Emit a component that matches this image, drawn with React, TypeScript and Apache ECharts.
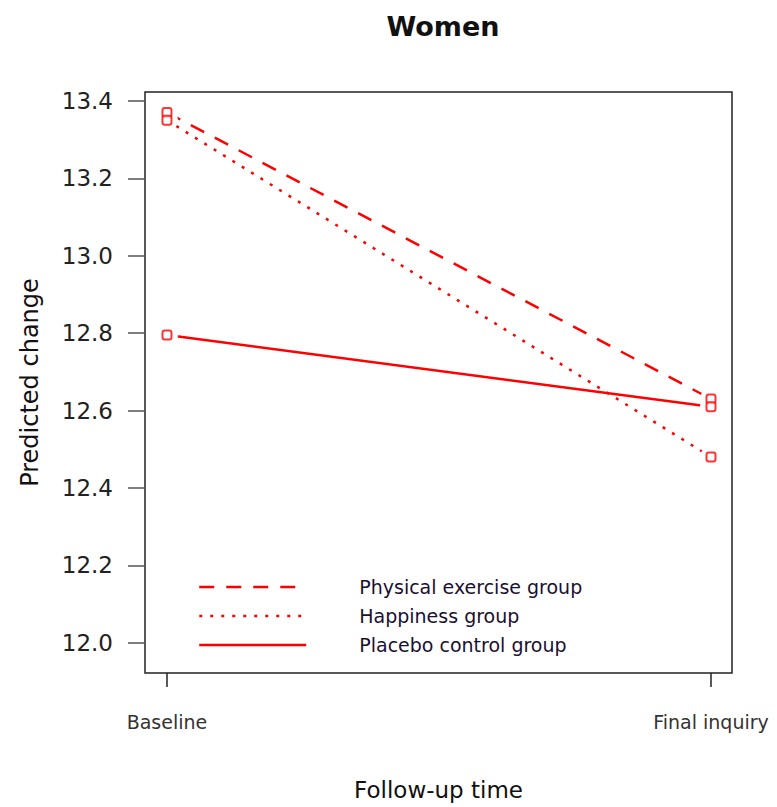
import React, { useEffect, useRef } from "react";
import * as echarts from "echarts";

const timeLabels = ["Baseline", "Final inquiry"];
const timePoints = [0, 1];
const yTicks = [12.0, 12.2, 12.4, 12.6, 12.8, 13.0, 13.2, 13.4];

const physicalExercise = [13.37, 12.63];
const happiness = [13.35, 12.48];
const placebo = [12.795, 12.61];

const groupNames = ["Physical exercise group", "Happiness group", "Placebo control group"];
const groupValues = [physicalExercise, happiness, placebo];
const groupDash: any[] = [[15, 12], [3, 8], "solid"];

const RED = "#ff0000";
const FONT = "DejaVu Sans";

export default function App() {
  const ref = useRef<HTMLDivElement>(null);
  useEffect(() => {
    if (!ref.current) return;
    const chart = echarts.init(ref.current, null, { renderer: "svg" });
    const pairs = (vals: number[]) => timePoints.map((t, i) => [t, vals[i]]);
    const lineSeries = groupNames.map((name, k) => ({
      name,
      type: "line",
      data: pairs(groupValues[k]),
      symbol: "none",
      lineStyle: { color: RED, width: 2.5, type: groupDash[k] },
      itemStyle: { color: RED },
      z: 2,
    }));
    const allPts: number[][] = [];
    groupValues.forEach((v) => pairs(v).forEach((p) => allPts.push(p)));
    const option: any = {
      animation: false,
      backgroundColor: "#fff",
      title: {
        text: "Women",
        left: 438,
        top: 8,
        textAlign: "center",
        textStyle: { fontFamily: FONT, fontWeight: "bold", fontSize: 27, color: "#111" },
      },
      grid: {
        left: 145,
        right: 45,
        top: 92,
        bottom: 134,
        show: true,
        borderColor: "#222",
        borderWidth: 1.5,
        containLabel: false,
      },
      legend: {
        data: groupNames,
        orient: "vertical",
        left: 198,
        top: 577,
        padding: 0,
        itemWidth: 107,
        itemHeight: 14,
        itemGap: 9,
        textStyle: {
          fontFamily: FONT,
          fontSize: 19,
          color: "#1a1030",
          lineHeight: 20,
          padding: [0, 0, 0, 48],
        },
        lineStyle: { type: "inherit", width: 2.5, color: RED },
        itemStyle: { opacity: 0 },
        selectedMode: false,
      },
      xAxis: {
        type: "value",
        min: -0.0404,
        max: 1.0386,
        splitLine: { show: false },
        axisLine: { show: false, onZero: false },
        axisTick: {
          show: true,
          inside: false,
          customValues: timePoints,
          length: 14,
          lineStyle: { color: "#222", width: 1.5 },
        },
        axisLabel: {
          customValues: timePoints,
          margin: 39,
          fontFamily: FONT,
          fontSize: 19,
          color: "#333",
          formatter: (v: number) => timeLabels[Math.round(v)] ?? "",
        },
        name: "Follow-up time",
        nameLocation: "middle",
        nameGap: 105,
        nameTextStyle: { fontFamily: FONT, fontSize: 23, color: "#111" },
      },
      yAxis: {
        type: "value",
        min: 11.922,
        max: 13.423,
        splitLine: { show: false },
        axisLine: { show: false, onZero: false },
        axisTick: {
          show: true,
          inside: false,
          customValues: yTicks,
          length: 17,
          lineStyle: { color: "#555", width: 1.5 },
        },
        axisLabel: {
          customValues: yTicks,
          margin: 32,
          fontFamily: FONT,
          fontSize: 23,
          color: "#222",
          formatter: (v: number) => v.toFixed(1),
        },
        name: "Predicted change",
        nameLocation: "middle",
        nameGap: 103,
        nameTextStyle: { fontFamily: FONT, fontSize: 24, color: "#111" },
      },
      series: [
        ...lineSeries,
        {
          type: "scatter",
          data: allPts,
          symbol: "circle",
          symbolSize: 22,
          itemStyle: { color: "#fff", opacity: 1 },
          silent: true,
          z: 3,
        },
        {
          type: "scatter",
          data: allPts,
          symbol: "emptyRoundRect",
          symbolSize: [9, 9],
          itemStyle: { color: RED, borderColor: RED, borderWidth: 2 },
          z: 4,
        },
      ],
    };
    chart.setOption(option);
    return () => chart.dispose();
  }, []);
  return (
    <div
      ref={ref}
      style={{ position: "fixed", left: 0, top: 0, width: 777, height: 807 }}
    />
  );
}
